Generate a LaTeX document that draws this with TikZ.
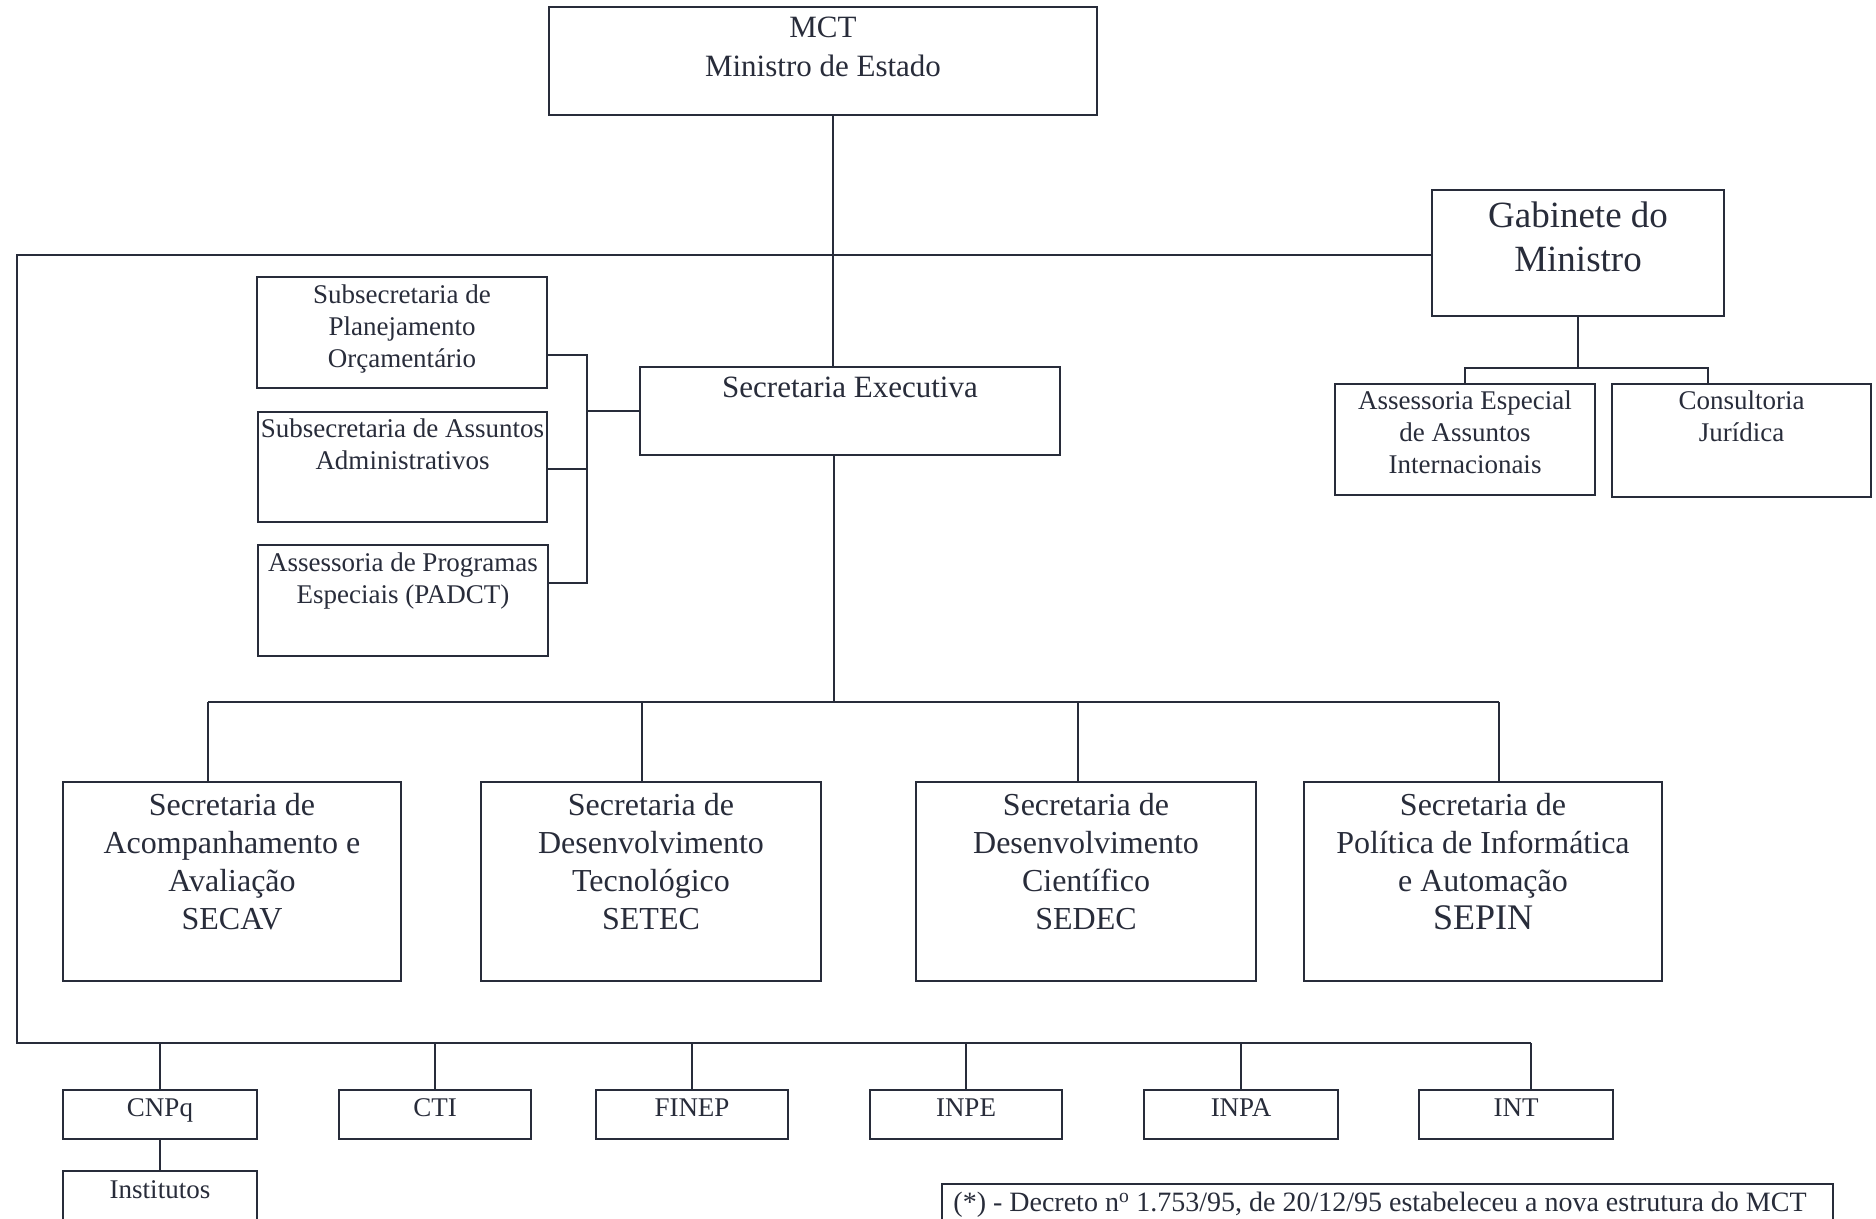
\documentclass[tikz,border=0pt]{standalone}
\usepackage{fontspec}
\setmainfont{Liberation Serif}
\definecolor{ink}{RGB}{40,44,58}
\begin{document}
\begin{tikzpicture}[x=1pt,y=-1pt,
  orgbox/.style={draw=ink, line width=1.5pt, inner sep=0pt, outer sep=0pt},
  lbl/.style={align=center, inner sep=0pt, outer sep=0pt, anchor=north, text=ink},
  fsmall/.style={font=\fontsize{27}{32}\selectfont},
  fmid/.style={font=\fontsize{31}{39}\selectfont},
  fsec/.style={font=\fontsize{32}{38}\selectfont},
  fbig/.style={font=\fontsize{37}{44}\selectfont},
  link/.style={draw=ink, line width=1.5pt}]
\useasboundingbox (0,0) rectangle (1876,1218);
\fill[white] (0,0) rectangle (1876,1218);
\clip (0,0) rectangle (1876,1218);

% ---- boxes ----
\node[orgbox, minimum width=548pt, minimum height=108pt] (mct) at (823,61) {};
\node[orgbox, minimum width=292pt, minimum height=126pt] (gab) at (1578,253) {};
\node[orgbox, minimum width=290pt, minimum height=111pt] (sp) at (402,332.5) {};
\node[orgbox, minimum width=289pt, minimum height=110pt] (sa) at (402.5,467) {};
\node[orgbox, minimum width=290pt, minimum height=111pt] (pe) at (403,600.5) {};
\node[orgbox, minimum width=420pt, minimum height=88pt] (se) at (850,411) {};
\node[orgbox, minimum width=260pt, minimum height=111pt] (aei) at (1465,439.5) {};
\node[orgbox, minimum width=259pt, minimum height=113pt] (cons) at (1741.5,440.5) {};
\node[orgbox, minimum width=338pt, minimum height=199pt] (secav) at (232,881.5) {};
\node[orgbox, minimum width=340pt, minimum height=199pt] (setec) at (651,881.5) {};
\node[orgbox, minimum width=340pt, minimum height=199pt] (sedec) at (1086,881.5) {};
\node[orgbox, minimum width=358pt, minimum height=199pt] (sepin) at (1483,881.5) {};
\node[orgbox, minimum width=194pt, minimum height=49pt] (cnpq) at (160,1114.5) {};
\node[orgbox, minimum width=192pt, minimum height=49pt] (cti) at (435,1114.5) {};
\node[orgbox, minimum width=192pt, minimum height=49pt] (finep) at (692,1114.5) {};
\node[orgbox, minimum width=192pt, minimum height=49pt] (inpe) at (966,1114.5) {};
\node[orgbox, minimum width=194pt, minimum height=49pt] (inpa) at (1241,1114.5) {};
\node[orgbox, minimum width=194pt, minimum height=49pt] (int) at (1516,1114.5) {};
\node[orgbox, minimum width=194pt, minimum height=88pt] (inst) at (160,1215) {};
\node[orgbox, minimum width=891pt, minimum height=76pt] (foot) at (1387.5,1222) {};

% ---- texts ----
\node[lbl, fmid] (mct-t) at (823,17) {MCT\\Ministro de Estado};
\node[lbl, fbig] (gab-t) at (1578,202) {Gabinete do\\Ministro};
\node[lbl, fsmall] (sp-t) at (402,285) {Subsecretaria de\\Planejamento\\Orçamentário};
\node[lbl, fsmall] (sa-t) at (402.5,419) {Subsecretaria de Assuntos\\Administrativos};
\node[lbl, fsmall] (pe-t) at (403,553) {Assessoria de Programas\\Especiais (PADCT)};
\node[lbl, fmid] (se-t) at (850,377) {Secretaria Executiva};
\node[lbl, fsmall] (aei-t) at (1465,391) {Assessoria Especial\\de Assuntos\\Internacionais};
\node[lbl, fsmall] (cons-t) at (1741.5,391) {Consultoria\\Jurídica};
\node[lbl, fsec] (secav-t) at (232,793) {Secretaria de\\Acompanhamento e\\Avaliação\\SECAV};
\node[lbl, fsec] (setec-t) at (651,793) {Secretaria de\\Desenvolvimento\\Tecnológico\\SETEC};
\node[lbl, fsec] (sedec-t) at (1086,793) {Secretaria de\\Desenvolvimento\\Científico\\SEDEC};
\node[lbl, fsec] (sepin-t) at (1483,793) {Secretaria de\\Política de Informática\\e Automação\\{\fontsize{36}{40}\selectfont SEPIN}};
\node[lbl, fsmall] (cnpq-t) at (160,1099) {CNPq};
\node[lbl, fsmall] (cti-t) at (435,1099) {CTI};
\node[lbl, fsmall] (finep-t) at (692,1099) {FINEP};
\node[lbl, fsmall] (inpe-t) at (966,1099) {INPE};
\node[lbl, fsmall] (inpa-t) at (1241,1099) {INPA};
\node[lbl, fsmall] (int-t) at (1516,1099) {INT};
\node[lbl, fsmall] (inst-t) at (160,1181) {Institutos};
\node[lbl, font=\fontsize{28}{32}\selectfont] (foot-t) at (1380,1192) {(*) - Decreto n\textsuperscript{o} 1.753/95, de 20/12/95 estabeleceu a nova estrutura do MCT};

% ---- junction coordinates ----
\coordinate (tl) at (17,255);
\coordinate (bl) at (17,1043);
\coordinate (br) at (1531,1043);
\coordinate (trunk) at (833,255);
\coordinate (sj) at (834,702);
\coordinate (sb1) at (208,702);
\coordinate (sb2) at (642,702);
\coordinate (sb3) at (1078,702);
\coordinate (sb4) at (1499,702);
\coordinate (bt) at (587,355);
\coordinate (bb) at (587,583);
\coordinate (bm) at (587,469);
\coordinate (gj) at (1578,368);
\coordinate (gl) at (1465,368);
\coordinate (gr) at (1708,368);

% ---- connectors ----
\draw[link] (mct.south -| trunk) -- (se.north -| trunk);
\draw[link] (gab.west |- tl) -- (tl) -- (bl) -- (br);
\draw[link] (se.south -| sj) -- (sj);
\draw[link] (sb1) -- (sb4);
\draw[link] (sb1) -- (sb1 |- secav.north);
\draw[link] (sb2) -- (sb2 |- setec.north);
\draw[link] (sb3) -- (sb3 |- sedec.north);
\draw[link] (sb4) -- (sb4 |- sepin.north);
\draw[link] (sp.east |- bt) -- (bt) -- (bb) -- (pe.east |- bb);
\draw[link] (sa.east |- bm) -- (bm);
\draw[link] (se.west) -- (se.west -| bt);
\draw[link] (gab.south) -- (gj);
\draw[link] (aei.north) -- (gl) -- (gr) -- (gr |- cons.north);
\draw[link] (cnpq.north) -- (cnpq.north |- bl);
\draw[link] (cti.north) -- (cti.north |- bl);
\draw[link] (finep.north) -- (finep.north |- bl);
\draw[link] (inpe.north) -- (inpe.north |- bl);
\draw[link] (inpa.north) -- (inpa.north |- bl);
\draw[link] (int.north -| br) -- (br);
\draw[link] (cnpq.south) -- (inst.north);
\end{tikzpicture}
\end{document}
